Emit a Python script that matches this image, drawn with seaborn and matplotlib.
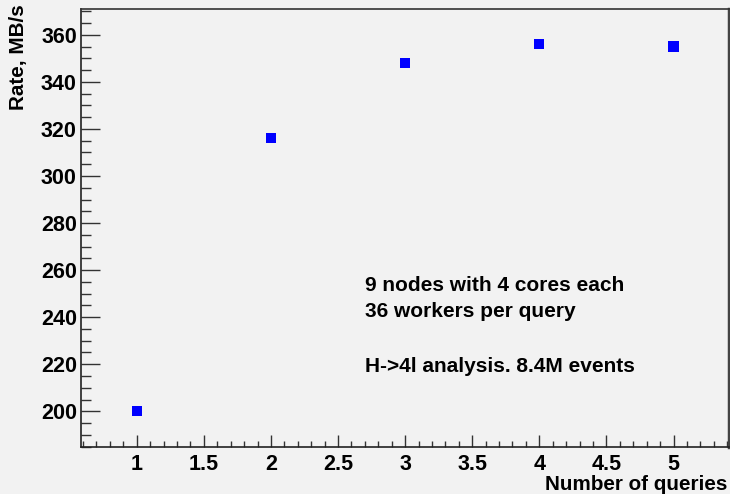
import numpy as np
import pandas as pd
import matplotlib
matplotlib.use("Agg")
import matplotlib.pyplot as plt
import seaborn as sns
from matplotlib.ticker import MultipleLocator

# Data
n_queries = [1, 2, 3, 4, 5]
rate_mbs = [200, 316, 348, 356, 355]

notes = ["9 nodes with 4 cores each", "36 workers per query", "H->4l analysis. 8.4M events"]
note_baselines_px = [291, 317, 372]

BG = "#f2f2f2"

sns.set_theme(style="ticks")
plt.rcParams["font.family"] = ["Liberation Sans", "DejaVu Sans"]
plt.rcParams["font.weight"] = "bold"
plt.rcParams["text.color"] = "black"

df = pd.DataFrame({"queries": n_queries, "rate": rate_mbs})

fig = plt.figure(figsize=(7.3, 4.94), dpi=100, facecolor=BG)
ax = fig.add_axes([0.111, 0.095, 0.887, 0.887])
ax.set_facecolor(BG)

sns.scatterplot(data=df, x="queries", y="rate", marker="s", s=55,
                color="#0000ff", edgecolor="none", linewidth=0, ax=ax, zorder=3)

ax.set_xlim(0.585, 5.41)
ax.set_ylim(184.8, 371)

ax.xaxis.set_major_locator(MultipleLocator(0.5))
ax.xaxis.set_minor_locator(MultipleLocator(0.1))
ax.yaxis.set_major_locator(MultipleLocator(20))
ax.yaxis.set_minor_locator(MultipleLocator(5))

ax.set_xticklabels([f"{v:g}" for v in ax.get_xticks()])
ax.tick_params(axis="both", which="both", direction="in", color="#333333",
               labelsize=15.5, labelcolor="black", width=1.0)
ax.tick_params(axis="x", which="major", length=9, pad=5)
ax.tick_params(axis="x", which="minor", length=4.5)
ax.tick_params(axis="y", which="major", length=14, pad=3)
ax.tick_params(axis="y", which="minor", length=7)
for lab in ax.get_xticklabels() + ax.get_yticklabels():
    lab.set_fontweight("bold")

for side in ["left", "bottom"]:
    ax.spines[side].set_color("#222222")
    ax.spines[side].set_linewidth(1.2)
ax.spines["top"].set_color("#333333")
ax.spines["top"].set_linewidth(1.2)
ax.spines["right"].set_color("#444444")
ax.spines["right"].set_linewidth(2.5)

ax.set_xlabel("")
ax.set_ylabel("")
fig.text(0.996, 1 - 490 / 494, "Number of queries", ha="right", va="baseline",
         fontsize=14.9, fontweight="bold", color="black")
fig.text(0.012, 0.992, "Rate, MB/s", ha="left", va="top", rotation=90,
         fontsize=14.9, fontweight="bold", color="black")

for line, yb in zip(notes, note_baselines_px):
    fig.text(0.5, 1 - yb / 494, line, ha="left", va="baseline",
             fontsize=15, fontweight="bold", color="black")

fig.savefig("out.png", dpi=100, facecolor=BG)
